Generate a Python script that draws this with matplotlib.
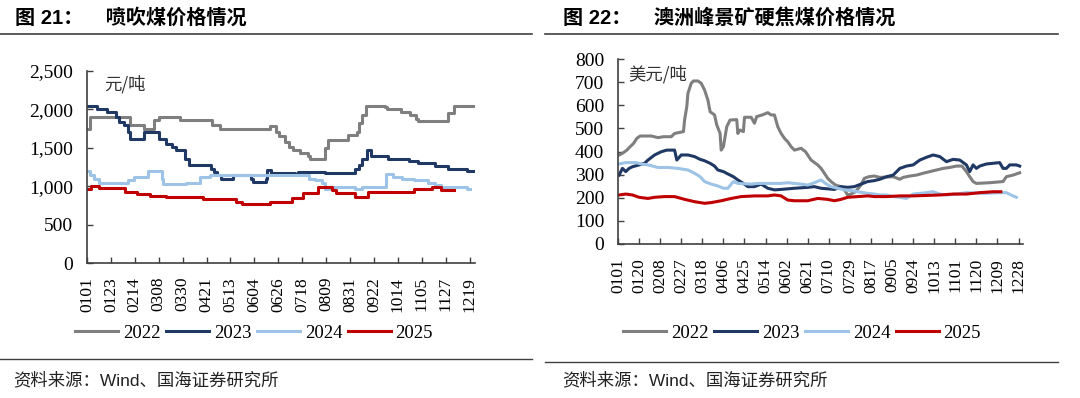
import matplotlib
matplotlib.use('Agg')
import matplotlib.pyplot as plt
from matplotlib.ticker import StrMethodFormatter
import numpy as np

plt.rcParams['font.family'] = ['Liberation Serif', 'Noto Sans CJK SC']

# ---------------- 图21 喷吹煤价格 (元/吨), 阶梯数据: 变化日(距0101天数) + 价格
pc_labels = ['0101', '0123', '0214', '0308', '0330', '0421', '0513', '0604', '0626',
             '0718', '0809', '0831', '0922', '1014', '1105', '1127', '1219']

pc22_day = [0, 3, 40, 52, 62, 66, 86, 115, 122, 168, 174, 177, 182, 186, 190, 196, 203,
            205, 219, 222, 240, 248, 250, 253, 257, 274, 276, 289, 297, 303, 305, 332,
            338, 356]
pc22_val = [1750, 1900, 1800, 1750, 1860, 1900, 1860, 1800, 1750, 1780, 1700, 1650, 1580,
            1515, 1470, 1430, 1390, 1350, 1500, 1600, 1665, 1700, 1825, 1925, 2050, 2025,
            2000, 1970, 1925, 1880, 1850, 1950, 2050, 2050]

pc23_day = [0, 9, 18, 27, 29, 34, 38, 40, 52, 66, 73, 78, 82, 90, 94, 114, 117, 120, 123,
            134, 151, 153, 165, 166, 169, 191, 194, 219, 247, 250, 253, 258, 261, 277,
            296, 305, 320, 332, 350, 356]
pc23_val = [2050, 2000, 1970, 1900, 1840, 1795, 1710, 1610, 1700, 1610, 1555, 1515, 1470,
            1360, 1275, 1230, 1190, 1145, 1100, 1145, 1100, 1060, 1100, 1210, 1170, 1145,
            1190, 1170, 1230, 1275, 1360, 1470, 1390, 1360, 1330, 1300, 1260, 1220, 1200,
            1200]

pc24_day = [0, 3, 6, 11, 38, 43, 56, 69, 70, 91, 104, 113, 204, 210, 216, 219, 225, 247,
            253, 275, 282, 290, 301, 314, 320, 326, 350, 352]
pc24_val = [1200, 1145, 1100, 1045, 1080, 1115, 1200, 1100, 1030, 1045, 1125, 1145, 1100,
            1075, 1040, 960, 985, 960, 995, 1160, 1125, 1090, 1075, 1045, 1015, 995, 960,
            960]

pc25_day = [0, 4, 11, 35, 46, 58, 73, 107, 137, 143, 168, 189, 199, 213, 225, 229, 247,
            259, 301, 317, 326, 338]
pc25_val = [960, 1000, 975, 930, 900, 875, 855, 830, 800, 770, 800, 845, 910, 995, 950,
            910, 865, 930, 960, 985, 950, 950]

# ---------------- 图22 澳洲峰景矿硬焦煤价格 (美元/吨)
hc_labels = ['0101', '0120', '0208', '0227', '0318', '0406', '0425', '0514', '0602', '0621',
             '0710', '0729', '0817', '0905', '0924', '1013', '1101', '1120', '1209', '1228']

hc22_day = [1, 4, 8, 11, 14, 17, 20, 30, 36, 41, 48, 51, 59, 60, 62, 63, 66, 68, 72, 75, 78,
            81, 83, 87, 89, 92, 93, 95, 98, 101, 107, 108, 110, 113, 114, 120, 123, 125,
            130, 135, 138, 141, 144, 147, 150, 153, 156, 159, 165, 169, 174, 180, 183, 186,
            189, 192, 196, 201, 204, 207, 210, 214, 219, 222, 226, 231, 236, 248, 254, 257,
            263, 269, 275, 281, 287, 293, 299, 305, 310, 314, 317, 320, 323, 335, 347, 350,
            356, 362]
hc22_val = [385, 392, 406, 421, 435, 457, 467, 467, 460, 464, 464, 478, 486, 536, 594, 651,
            695, 705, 705, 695, 666, 623, 572, 558, 515, 478, 406, 421, 507, 536, 538, 478,
            493, 486, 548, 548, 522, 551, 558, 568, 558, 558, 507, 478, 457, 442, 421, 406,
            414, 399, 363, 342, 327, 306, 284, 270, 255, 248, 234, 212, 216, 226, 255, 284,
            291, 294, 288, 291, 280, 288, 294, 298, 306, 313, 320, 327, 331, 337, 337, 313,
            291, 270, 262, 265, 270, 291, 298, 308]

hc23_day = [1, 4, 7, 10, 13, 19, 24, 27, 33, 39, 44, 51, 53, 57, 63, 69, 74, 78, 83, 87, 90,
            95, 99, 104, 108, 113, 117, 123, 129, 135, 141, 147, 159, 171, 177, 183, 195,
            201, 207, 213, 219, 225, 231, 236, 242, 248, 254, 260, 266, 272, 278, 284, 290,
            296, 302, 308, 314, 317, 320, 323, 326, 332, 344, 347, 350, 353, 359, 362]
hc23_val = [298, 327, 313, 327, 334, 342, 349, 363, 385, 399, 406, 406, 363, 385, 385, 378,
            366, 360, 349, 337, 320, 313, 303, 291, 277, 262, 248, 248, 259, 241, 234, 236,
            241, 245, 248, 241, 236, 248, 245, 248, 259, 270, 274, 280, 291, 298, 327, 337,
            342, 363, 375, 385, 378, 356, 366, 363, 342, 313, 342, 327, 337, 346, 352, 327,
            327, 342, 342, 337]

hc24_day = [1, 7, 16, 21, 27, 36, 45, 54, 63, 69, 74, 78, 84, 90, 95, 99, 104, 108, 120,
            126, 147, 153, 159, 165, 171, 177, 183, 187, 192, 198, 204, 210, 216, 225, 231,
            236, 242, 248, 254, 260, 266, 278, 284, 290, 296, 305, 314, 332, 344, 350, 356,
            359]
hc24_val = [346, 352, 352, 346, 342, 331, 331, 327, 320, 306, 291, 270, 259, 251, 241, 241,
            270, 262, 259, 262, 262, 265, 262, 259, 255, 265, 277, 262, 248, 241, 234, 231,
            226, 219, 216, 212, 212, 205, 202, 197, 216, 222, 226, 216, 212, 216, 222, 219,
            222, 222, 208, 202]

hc25_day = [1, 7, 13, 19, 27, 33, 42, 51, 60, 69, 78, 84, 93, 102, 111, 123, 135, 141, 147,
            153, 159, 171, 180, 189, 195, 201, 207, 216, 225, 231, 242, 254, 266, 278, 290,
            302, 314, 326, 338, 345]
hc25_val = [212, 216, 212, 202, 197, 202, 205, 205, 193, 183, 176, 179, 187, 197, 205, 208,
            208, 212, 208, 190, 187, 187, 197, 193, 187, 193, 202, 205, 208, 205, 205, 208,
            208, 210, 212, 216, 216, 222, 226, 226]

years = ['2022', '2023', '2024', '2025']
colors = ['#7f7f7f', '#1f3864', '#9dc3e6', '#c00000']

W, H = 1080, 398
fig = plt.figure(figsize=(W / 100, H / 100), dpi=100)


def fx(px):
    return px / W


def fy(py):
    return 1 - py / H


def style_axis(ax, labels, step, xmax, ymax, ystep):
    ax.set_xlim(0, xmax)
    ax.set_ylim(0, ymax)
    ax.set_xticks(np.arange(len(labels)) * step)
    ax.set_xticklabels(labels, rotation=90, fontsize=12.5)
    ax.set_yticks(np.arange(0, ymax + 1, ystep))
    ax.tick_params(axis='both', direction='in', length=4, width=1, color='#404040')
    ax.tick_params(axis='y', labelsize=14, pad=10)
    ax.tick_params(axis='x', pad=10)
    for s in ['top', 'right']:
        ax.spines[s].set_visible(False)
    for s in ['left', 'bottom']:
        ax.spines[s].set_color('#404040')
        ax.spines[s].set_linewidth(1.2)


legend_kw = dict(loc='center', bbox_transform=fig.transFigure, ncol=4, frameon=False,
                 fontsize=13.5, handlelength=2.3, handletextpad=0.25, columnspacing=0.3)

# ---------------- left chart
ax1 = fig.add_axes([fx(87), fy(263), fx(475 - 87), (263 - 71) / H])
for d, v, c, y in zip([pc22_day, pc23_day, pc24_day, pc25_day],
                      [pc22_val, pc23_val, pc24_val, pc25_val], colors, years):
    ax1.plot(d, v, drawstyle='steps-post', color=c, lw=2.2, label=y)
style_axis(ax1, pc_labels, 22, 357, 2500, 500)
ax1.yaxis.set_major_formatter(StrMethodFormatter('{x:,.0f}'))
ax1.text(0.045, 0.93, '元/吨', transform=ax1.transAxes, fontsize=12.5,
         va='center', ha='left', family=['Noto Sans CJK SC'], color='#333333')
ax1.legend(bbox_to_anchor=(fx(254), fy(333)), **legend_kw)

# ---------------- right chart
ax2 = fig.add_axes([fx(618), fy(244), fx(1023 - 618), (244 - 59) / H])
for d, v, c, y in zip([hc22_day, hc23_day, hc24_day, hc25_day],
                      [hc22_val, hc23_val, hc24_val, hc25_val], colors, years):
    ax2.plot(d, v, color=c, lw=2.2, label=y)
style_axis(ax2, hc_labels, 19, 365, 800, 100)
ax2.text(0.025, 0.92, '美元/吨', transform=ax2.transAxes, fontsize=12.5,
         va='center', ha='left', family=['Noto Sans CJK SC'], color='#333333')
ax2.legend(bbox_to_anchor=(fx(802), fy(333)), **legend_kw)

# ---------------- titles, rules, sources
title_font = ['Liberation Sans', 'Noto Sans CJK SC']
fig.text(fx(15), fy(18), '图 21：    喷吹煤价格情况', fontsize=14.5, fontweight='bold',
         family=title_font, va='center', ha='left')
fig.text(fx(563), fy(18), '图 22：    澳洲峰景矿硬焦煤价格情况', fontsize=14.5, fontweight='bold',
         family=title_font, va='center', ha='left')
fig.add_artist(plt.Line2D([fx(0), fx(532)], [fy(34), fy(34)], color='#404040', lw=1.2))
fig.add_artist(plt.Line2D([fx(545), fx(1058)], [fy(34), fy(34)], color='#404040', lw=1.2))
fig.add_artist(plt.Line2D([fx(0), fx(532)], [fy(359), fy(359)], color='#404040', lw=1))
fig.add_artist(plt.Line2D([fx(545), fx(1058)], [fy(362), fy(362)], color='#404040', lw=1))
src_font = ['Liberation Sans', 'Noto Sans CJK SC']
fig.text(fx(13), fy(380), '资料来源：Wind、国海证券研究所', fontsize=12.5, family=src_font,
         va='center', ha='left', color='#222222')
fig.text(fx(562), fy(380), '资料来源：Wind、国海证券研究所', fontsize=12.5, family=src_font,
         va='center', ha='left', color='#222222')

fig.savefig('out.png', dpi=100)
